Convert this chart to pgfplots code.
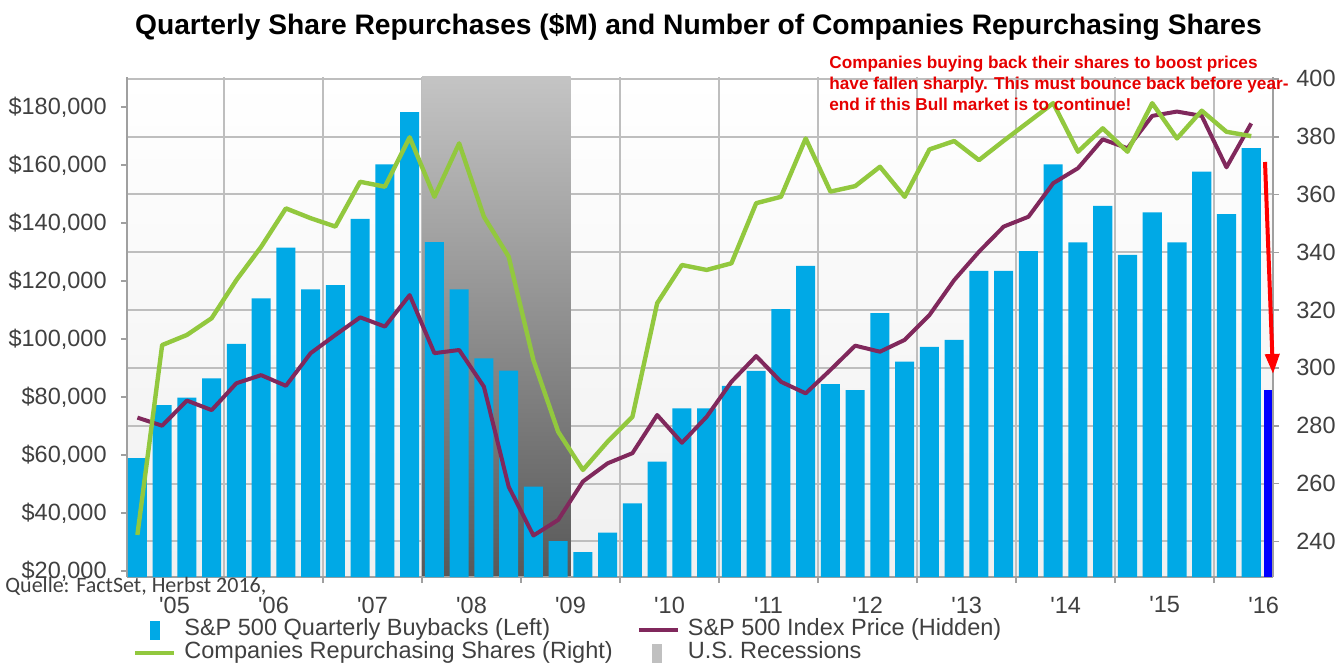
\documentclass[border=0pt]{standalone}
\usepackage{fontspec}
\setmainfont{Liberation Sans}
\newfontfamily\carlito{Carlito}
\usepackage{pgfplots}
\usepackage{pgfplotstable}
\pgfplotsset{compat=1.18}
\usetikzlibrary{arrows.meta}
\definecolor{barblue}{RGB}{0,169,230}
\definecolor{lgreen}{RGB}{146,200,62}
\definecolor{idxpurple}{RGB}{128,40,92}
\definecolor{gridgray}{RGB}{190,190,190}
\definecolor{axgray}{RGB}{160,160,160}
\definecolor{txtgray}{RGB}{64,64,64}
\definecolor{recTop}{RGB}{196,196,196}
\definecolor{recBot}{RGB}{88,88,88}
\definecolor{recIcon}{RGB}{192,192,192}
\definecolor{annred}{RGB}{230,0,0}

\pgfplotstableread{
x y
0 58900
1 77200
2 79800
3 86400
4 98300
5 114000
6 131500
7 117100
8 118600
9 141400
10 160200
11 178200
12 133400
13 117100
14 93300
15 89100
16 49100
17 30300
18 26500
19 33200
20 43300
21 57700
22 76100
23 76100
24 83800
25 89000
26 110300
27 125200
28 84400
29 82400
30 108900
31 92200
32 97300
33 99700
34 123500
35 123500
36 130300
37 160200
38 133300
39 145900
40 129000
41 143700
42 133300
43 157700
44 143100
45 165800
}\buybacks

\pgfplotstableread{
x g p
0 242.2 282.8
1 307.9 280.0
2 311.4 288.7
3 317.2 285.4
4 330.4 294.7
5 341.9 297.5
6 355.2 293.8
7 351.8 305.1
8 348.9 311.4
9 364.4 317.5
10 362.7 314.3
11 379.8 325.2
12 359.2 305.1
13 377.7 306.2
14 352.3 293.5
15 338.5 258.9
16 302.7 242.0
17 277.9 247.4
18 264.7 260.7
19 274.5 267.0
20 283.1 270.5
21 322.4 283.7
22 335.6 274.1
23 333.9 283.1
24 336.2 295.2
25 357.0 304.1
26 359.2 295.2
27 379.4 291.2
28 361.0 299.3
29 362.9 307.7
30 369.6 305.6
31 359.2 309.7
32 375.6 318.3
33 378.5 330.4
34 371.9 340.2
35 378.6 348.9
36 385.1 352.3
37 391.6 363.9
38 374.8 369.1
39 382.9 379.1
40 374.8 376.0
41 391.6 387.2
42 379.4 388.7
43 389.0 387.2
44 381.7 369.4
45 380.2 384.6
}\lines

\newcommand{\tickfont}{\fontsize{11.75}{14}\selectfont}
\pgfplotsset{
  base/.style={scale only axis, width=573pt, height=250pt,
    xmin=-0.42, xmax=45.88, at={(63.5pt,43.5pt)}, anchor=south west,
    tick label style={font=\tickfont, text=txtgray}},
  barimg/.style={legend image code/.code={\fill[barblue] (7.5pt,-4.8pt) rectangle (12pt,4.2pt); \path (0pt,0pt) (23.5pt,0pt);}},
  recimg/.style={legend image code/.code={\fill[recIcon] (7pt,-4.8pt) rectangle (11.5pt,4.2pt); \path (0pt,0pt) (23.5pt,0pt);}},
  purimg/.style={legend image code/.code={\draw[idxpurple, line width=2pt] (0pt,-0.3pt) -- (19.5pt,-0.3pt); \path (0pt,0pt) (23.5pt,0pt);}},
  grnimg/.style={legend image code/.code={\draw[lgreen, line width=2.2pt] (0pt,-0.3pt) -- (19.5pt,-0.3pt); \path (0pt,0pt) (23.5pt,0pt);}},
}

\begin{document}
\begin{tikzpicture}
\useasboundingbox (0,0) rectangle (671.5pt,332pt);

% background, grid, recession shading
\begin{axis}[base, ymin=227.65, ymax=400.66,
  xtick={3.5,7.5,...,43.5}, ytick={240,260,...,400},
  xticklabels={}, yticklabels={},
  grid=major, grid style={gridgray, line width=1pt},
  tick style={draw=none}, axis line style={draw=none},
  axis background/.style={top color=white, bottom color=black!6}]
  \fill[top color=recTop, bottom color=recBot] (axis cs:11.5,227.65) rectangle (axis cs:17.5,400.66);
\end{axis}

% left axis: bars
\begin{axis}[base, ymin=17931, ymax=190345,
  scaled y ticks=false,
  axis y line*=left, axis x line*=bottom,
  axis line style={axgray, line width=1pt},
  tick style={axgray, line width=0.8pt}, major tick length=3pt, tick align=outside,
  ytick={20000,40000,...,180000},
  yticklabels={{\$20,000},{\$40,000},{\$60,000},{\$80,000},{\$100,000},{\$120,000},{\$140,000},{\$160,000},{\$180,000}},
  yticklabel style={anchor=east, inner sep=0pt, xshift=-7pt},
  xtick={3.5,7.5,...,43.5}, xticklabels={},
  extra x ticks={1.5,5.5,...,45.5},
  extra x tick labels={\textquotesingle05,\textquotesingle06,\textquotesingle07,\textquotesingle08,\textquotesingle09,\textquotesingle10,\textquotesingle11,\textquotesingle12,\textquotesingle13,\textquotesingle14,\textquotesingle15,\textquotesingle16},
  extra x tick style={tick style={draw=none}},
  xticklabel style={anchor=center, inner sep=0pt, yshift=-11pt}]
  \addplot[ybar, bar width=0.77, bar shift=0pt, fill=barblue, draw=none] table[x=x, y=y] {\buybacks};
  \addplot[ybar, bar width=0.36, bar shift=0pt, fill=blue, draw=none] coordinates {(45.70,82400)};
\end{axis}

% right axis: lines + legend
\begin{axis}[base, ymin=227.65, ymax=400.66,
  axis y line*=right, axis x line=none,
  axis line style={axgray, line width=1pt},
  tick style={axgray, line width=0.8pt}, major tick length=3pt, tick align=outside,
  ytick={240,260,...,400},
  yticklabels={240,260,280,300,320,340,360,380,400},
  yticklabel style={anchor=west, inner sep=0pt, xshift=8.5pt},
  legend columns=2,
  legend style={at={(0.005236,-0.08)}, anchor=north west, draw=none, fill=none,
    inner sep=0pt, outer sep=0pt, font=\tickfont, text=txtgray,
    cells={anchor=west}, row sep=-1pt,
    nodes={inner sep=0pt, text height=9pt, text depth=3.5pt},
    /tikz/every even column/.append style={column sep=12pt}}]
  \addlegendimage{barimg}
  \addlegendentry{S\&P 500 Quarterly Buybacks (Left)}
  \addplot[idxpurple, line width=2pt, line join=round, purimg] table[x=x, y=p] {\lines};
  \addlegendentry{S\&P 500 Index Price (Hidden)}
  \addplot[lgreen, line width=2.2pt, line join=round, grnimg] table[x=x, y=g] {\lines};
  \addlegendentry{Companies Repurchasing Shares (Right)}
  \addlegendimage{recimg}
  \addlegendentry{U.S. Recessions}
\end{axis}

\node[anchor=base, inner sep=0pt, font=\bfseries\fontsize{14.1}{16}\selectfont] at (349.25pt,314.5pt)
  {Quarterly Share Repurchases (\$M) and Number of Companies Repurchasing Shares};

\begin{scope}[every node/.style={anchor=base west, inner sep=0pt, text=annred, font=\bfseries\fontsize{8.6}{10}\selectfont}]
  \node at (414.5pt,297.5pt) {Companies buying back their shares to boost prices};
  \node at (414.5pt,287pt) {have fallen sharply. This must bounce back before year-};
  \node at (414.5pt,276.5pt) {end if this Bull market is to continue!};
\end{scope}

\draw[red, line width=2pt, -{Triangle[length=10pt,width=7pt]}] (632.5pt,251pt) -- (636.5pt,145pt);

\node[anchor=base west, inner sep=0pt, text=txtgray, font=\carlito\fontsize{11}{13}\selectfont] at (2.5pt,36pt)
  {Quelle: FactSet, Herbst 2016,};
\end{tikzpicture}
\end{document}
